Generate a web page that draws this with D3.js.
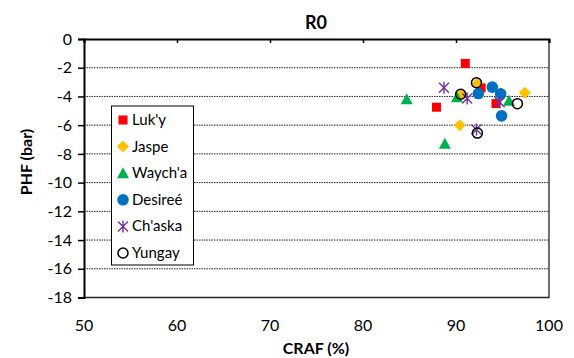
<!DOCTYPE html>
<html>
<head>
<meta charset="utf-8">
<script src="https://cdn.jsdelivr.net/npm/d3@7"></script>
<style>
  html, body { margin: 0; padding: 0; background: #fff; }
  svg { display: block; font-family: Lato, "Open Sans", sans-serif; }
</style>
</head>
<body>
<svg id="chart" width="574" height="358"></svg>
<script>
// Variety names, in legend order
const varieties = ["Luk'y", "Jaspe", "Waych'a", "Desireé", "Ch'aska", "Yungay"];

// CRAF (%) and PHF (bar) readings per variety
const lukyCraf    = [91.0, 87.9, 94.3, 92.7];
const lukyPhf     = [-1.7, -4.75, -4.5, -3.4];
const jaspeCraf   = [92.3, 97.4, 90.4, 90.6];
const jaspePhf    = [-3.1, -3.75, -6.0, -3.85];
const waychaCraf  = [84.7, 88.8, 90.1, 95.7];
const waychaPhf   = [-4.2, -7.3, -4.05, -4.3];
const desireeCraf = [93.9, 92.4, 94.8, 94.9];
const desireePhf  = [-3.35, -3.8, -3.82, -5.35];
const chaskaCraf  = [88.7, 91.2, 94.7, 92.2];
const chaskaPhf   = [-3.4, -4.15, -4.4, -6.3];
const yungayCraf  = [92.2, 90.5, 96.6, 92.3];
const yungayPhf   = [-3.05, -3.85, -4.5, -6.55];

const xTicks = [50, 60, 70, 80, 90, 100];
const yTicks = [0, -2, -4, -6, -8, -10, -12, -14, -16, -18];

const series = [
  { name: varieties[0], craf: lukyCraf,    phf: lukyPhf,    shape: "square",   color: "#ff0000" },
  { name: varieties[1], craf: jaspeCraf,   phf: jaspePhf,   shape: "diamond",  color: "#ffc000" },
  { name: varieties[2], craf: waychaCraf,  phf: waychaPhf,  shape: "triangle", color: "#00b050" },
  { name: varieties[3], craf: desireeCraf, phf: desireePhf, shape: "circle",   color: "#0070c0" },
  { name: varieties[4], craf: chaskaCraf,  phf: chaskaPhf,  shape: "star",     color: "#7030a0" },
  { name: varieties[5], craf: yungayCraf,  phf: yungayPhf,  shape: "ring",     color: "#000000" }
];

const svg = d3.select("#chart");
const plot = { left: 84, right: 549, top: 39, bottom: 297.5 };

const x = d3.scaleLinear().domain([50, 100]).range([plot.left, plot.right]);
const y = d3.scaleLinear().domain([-18, 0]).range([plot.bottom, plot.top]);

// Dotted horizontal gridlines
svg.append("g")
  .selectAll("line")
  .data(yTicks.filter(v => v !== 0 && v !== -18))
  .join("line")
  .attr("x1", plot.left).attr("x2", plot.right)
  .attr("y1", d => y(d)).attr("y2", d => y(d))
  .attr("stroke", "#222").attr("stroke-width", 1)
  .attr("stroke-dasharray", "1.5,1");

// Plot area frame (right and bottom edges)
svg.append("path")
  .attr("d", `M${plot.right},${plot.top}V${plot.bottom}H${plot.left}`)
  .attr("fill", "none").attr("stroke", "#222").attr("stroke-width", 1.3);

// Y axis on the left, ticks pointing outward
const yAxis = svg.append("g")
  .attr("transform", `translate(${plot.left},0)`)
  .call(d3.axisLeft(y).tickValues(yTicks).tickSize(6).tickPadding(6)
        .tickFormat(d => d3.format("d")(d).replace("−", "-")));
yAxis.select(".domain").attr("stroke", "#000").attr("stroke-width", 2);
yAxis.selectAll(".tick line").attr("stroke", "#000").attr("stroke-width", 1.5);
yAxis.selectAll(".tick text").attr("font-size", 16).attr("fill", "#000")
  .attr("font-family", "Lato, sans-serif");

// X axis line sits at PHF = 0 with inward ticks; labels placed below the plot
const xAxis = svg.append("g")
  .attr("transform", `translate(0,${y(0)})`)
  .call(d3.axisBottom(x).tickValues(xTicks).tickSize(4).tickFormat(""));
xAxis.select(".domain").attr("stroke", "#000").attr("stroke-width", 2);
xAxis.selectAll(".tick line").attr("stroke", "#000").attr("stroke-width", 1.5);

svg.append("g")
  .selectAll("text")
  .data(xTicks)
  .join("text")
  .attr("x", d => x(d)).attr("y", 331)
  .attr("text-anchor", "middle")
  .attr("font-size", 16).attr("fill", "#000")
  .text(d => d);

// Titles
svg.append("text")
  .attr("x", 316).attr("y", 29)
  .attr("text-anchor", "middle")
  .attr("font-size", 18).attr("font-weight", "bold")
  .text("R0");

svg.append("text")
  .attr("x", 316).attr("y", 354)
  .attr("text-anchor", "middle")
  .attr("font-size", 16).attr("font-weight", "bold")
  .text("CRAF (%)");

svg.append("text")
  .attr("transform", "translate(32,162) rotate(-90)")
  .attr("text-anchor", "middle")
  .attr("font-size", 16).attr("font-weight", "bold")
  .text("PHF (bar)");

// Marker drawing
function drawMarker(g, shape, color) {
  switch (shape) {
    case "square":
      g.append("rect").attr("x", -4.5).attr("y", -4.5).attr("width", 9).attr("height", 9)
        .attr("fill", color);
      break;
    case "diamond":
      g.append("path").attr("d", "M0,-6L6,0L0,6L-6,0Z").attr("fill", color);
      break;
    case "triangle":
      g.append("path").attr("d", "M0,-6L6,5L-6,5Z").attr("fill", color);
      break;
    case "circle":
      g.append("circle").attr("r", 5.8).attr("fill", color);
      break;
    case "star":
      g.append("path")
        .attr("d", "M-5,-5L5,5M-5,5L5,-5M0,-6V6")
        .attr("stroke", color).attr("stroke-width", 1.4).attr("fill", "none");
      break;
    case "ring":
      g.append("circle").attr("r", 5).attr("fill", "none")
        .attr("stroke", color).attr("stroke-width", 1.5);
      break;
  }
}

// Data points
series.forEach(s => {
  const pts = s.craf.map((c, i) => ({ c, p: s.phf[i] }));
  svg.append("g").selectAll("g")
    .data(pts)
    .join("g")
    .attr("transform", d => `translate(${x(d.c)},${y(d.p)})`)
    .each(function () { drawMarker(d3.select(this), s.shape, s.color); });
});

// Legend
const legend = svg.append("g");
legend.append("rect")
  .attr("x", 111.5).attr("y", 106).attr("width", 82).attr("height", 159)
  .attr("fill", "#fff").attr("stroke", "#000").attr("stroke-width", 1);
const items = legend.selectAll("g.item")
  .data(series)
  .join("g")
  .attr("class", "item")
  .attr("transform", (d, i) => `translate(123,${120 + i * 26.6})`);
items.each(function (d) { drawMarker(d3.select(this), d.shape, d.color); });
items.append("text")
  .attr("x", 9).attr("y", 5)
  .attr("font-size", 15).attr("fill", "#000")
  .text(d => d.name);
</script>
</body>
</html>
